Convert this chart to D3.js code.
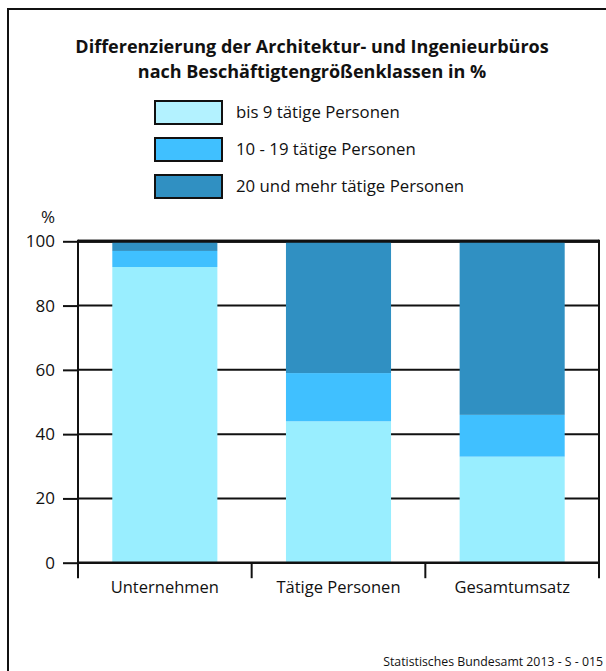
<!DOCTYPE html>
<html>
<head>
<meta charset="utf-8">
<script src="https://cdn.jsdelivr.net/npm/d3@7"></script>
<style>
  body { margin: 0; background: #fff; }
  svg { display: block; font-family: "Open Sans", sans-serif; }
</style>
</head>
<body>
<div id="chart"></div>
<script>
// Data
const categories = ["Unternehmen", "Tätige Personen", "Gesamtumsatz"];
const seriesNames = ["bis 9 tätige Personen", "10 - 19 tätige Personen", "20 und mehr tätige Personen"];
const small = [92, 44, 33];
const medium = [5, 15, 13];
const large = [3, 41, 54];
const yTicks = [0, 20, 40, 60, 80, 100];
const titleLines = ["Differenzierung der Architektur- und Ingenieurbüros", "nach Beschäftigtengrößenklassen in %"];
const source = "Statistisches Bundesamt 2013 - S - 015";

const barColors = ["#99eeff", "#40c0ff", "#3090c2"];
const legendColors = ["#b3f2ff", "#40c0ff", "#3090c2"];

const Width = 606, Height = 671;
const Plot = {left: 78, right: 599, top: 241.3, bottom: 562.7};

const svg = d3.select("#chart").append("svg")
    .attr("width", Width).attr("height", Height);

// outer frame (left and top edges)
svg.append("path")
    .attr("d", `M8,${Height} V9 H${Width}`)
    .attr("fill", "none").attr("stroke", "#111").attr("stroke-width", 2);

// title
svg.append("text")
    .attr("text-anchor", "middle").attr("font-weight", "bold").attr("font-size", 18)
    .attr("fill", "#111")
    .selectAll("tspan").data(titleLines).join("tspan")
    .attr("x", 312).attr("y", (d, i) => 53 + i * 25)
    .text(d => d);

// legend
const legend = svg.append("g").selectAll("g").data(seriesNames).join("g")
    .attr("transform", (d, i) => `translate(155, ${101 + i * 37})`);
legend.append("rect")
    .attr("width", 67).attr("height", 23)
    .attr("fill", (d, i) => legendColors[i])
    .attr("stroke", "#111").attr("stroke-width", 2);
legend.append("text")
    .attr("x", 81).attr("y", 17)
    .attr("font-size", 16.8).attr("fill", "#111")
    .text(d => d);

// scales
const x = d3.scaleBand().domain(categories)
    .range([Plot.left, Plot.right])
    .paddingInner(0.395).paddingOuter(0.1975);
const y = d3.scaleLinear().domain([0, 100]).range([Plot.bottom, Plot.top]);

// gridlines behind the bars
svg.append("g").selectAll("line").data(yTicks.filter(t => t > 0)).join("line")
    .attr("x1", Plot.left).attr("x2", Plot.right)
    .attr("y1", d => y(d)).attr("y2", d => y(d))
    .attr("stroke", "#111").attr("stroke-width", d => d === 100 ? 3 : 2);

// stacked bars
const rows = categories.map((c, i) => ({cat: c, s0: small[i], s1: medium[i], s2: large[i]}));
const stacked = d3.stack().keys(["s0", "s1", "s2"])(rows);
svg.append("g").selectAll("g").data(stacked).join("g")
    .attr("fill", (d, i) => barColors[i])
    .selectAll("rect").data(d => d).join("rect")
    .attr("x", d => x(d.data.cat))
    .attr("width", x.bandwidth())
    .attr("y", d => y(d[1]))
    .attr("height", d => y(d[0]) - y(d[1]));

// top line again over bars
svg.append("line")
    .attr("x1", Plot.left).attr("x2", Plot.right)
    .attr("y1", y(100)).attr("y2", y(100))
    .attr("stroke", "#111").attr("stroke-width", 3);

// y axis
const AxisY = d3.axisLeft(y).tickValues(yTicks).tickSize(15).tickPadding(8);
const gy = svg.append("g").attr("transform", `translate(${Plot.left},0)`).call(AxisY);
gy.select(".domain").remove();
gy.selectAll(".tick line").attr("stroke", "#111").attr("stroke-width", 2);
gy.selectAll(".tick text").attr("font-size", 17).attr("fill", "#111")
    .attr("font-family", "Open Sans, sans-serif");
svg.append("line")
    .attr("x1", Plot.left).attr("x2", Plot.left)
    .attr("y1", Plot.top - 1.5).attr("y2", Plot.bottom + 15.5)
    .attr("stroke", "#111").attr("stroke-width", 2);
svg.append("text")
    .attr("x", 55).attr("y", 223).attr("text-anchor", "end")
    .attr("font-size", 17).attr("fill", "#111").text("%");

// x axis
svg.append("line")
    .attr("x1", Plot.left).attr("x2", Plot.right)
    .attr("y1", Plot.bottom).attr("y2", Plot.bottom)
    .attr("stroke", "#111").attr("stroke-width", 2.5);
const step = x.step();
svg.append("g").selectAll("line").data(categories).join("line")
    .attr("x1", (d, i) => Plot.left + step * (i + 1))
    .attr("x2", (d, i) => Plot.left + step * (i + 1))
    .attr("y1", (d, i) => i === categories.length - 1 ? Plot.top - 1.5 : Plot.bottom)
    .attr("y2", Plot.bottom + 15.5)
    .attr("stroke", "#111").attr("stroke-width", 2);
svg.append("g").selectAll("text").data(categories).join("text")
    .attr("x", d => x(d) + x.bandwidth() / 2)
    .attr("y", 593)
    .attr("text-anchor", "middle").attr("font-size", 16.5).attr("fill", "#111")
    .text(d => d);

// source note
svg.append("text")
    .attr("x", 603).attr("y", 666).attr("text-anchor", "end")
    .attr("font-size", 12.3).attr("fill", "#111")
    .text(source);
</script>
</body>
</html>
